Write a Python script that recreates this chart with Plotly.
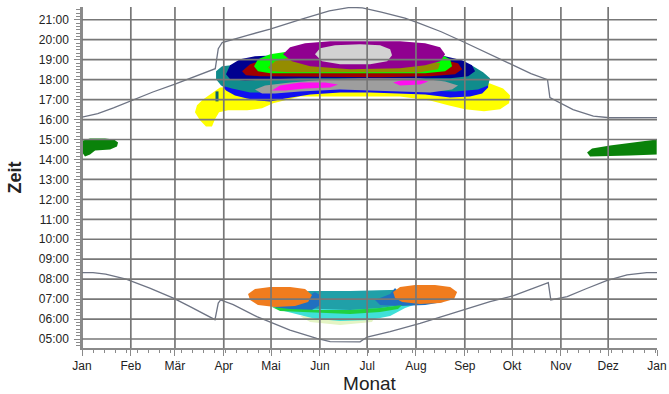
import pandas as pd
import plotly.graph_objects as go

# ---------------- data ----------------
YEAR_START = "2021-01-01"
month_days = [0, 31, 59, 90, 120, 151, 181, 212, 243, 273, 304, 334, 365]
month_labels = ["Jan", "Feb", "Mär", "Apr", "Mai", "Jun", "Jul", "Aug", "Sep", "Okt", "Nov", "Dez", "Jan"]
hours = list(range(5, 22))
hour_labels = [f"{h:02d}:00" for h in hours]

# sunset (upper grey curve): day of year, hour
sunset_day = [0, 10, 20, 31, 45, 59, 70, 84.6, 86.5, 89, 105, 119.4, 140, 157, 170, 178, 190, 205, 213,
              228, 243, 258, 272, 285, 295.5, 297, 311.7, 324.6, 335, 350, 365]
sunset_hr = [16.12, 16.3, 16.58, 16.93, 17.38, 17.78, 18.12, 18.55, 19.55, 19.86, 20.22, 20.53, 21.05, 21.45, 21.62,
             21.6, 21.38, 21.08, 20.86, 20.4, 19.86, 19.3, 18.75, 18.3, 18.0, 17.1, 16.5, 16.17, 16.09, 16.08, 16.1]
# sunrise (lower grey curve)
sunrise_day = [0, 7, 15, 28, 43, 58, 68.6, 84.4, 86.5, 88, 96, 111, 132, 149, 157.5, 176.5, 181, 195.6, 214.6,
               237, 259, 274, 296, 297.6, 308, 320, 333, 346, 358.5, 365]
sunrise_hr = [8.33, 8.33, 8.25, 8.0, 7.55, 7.05, 6.62, 5.97, 6.8, 6.96, 6.72, 6.12, 5.45, 5.03, 4.87, 4.86, 5.1, 5.37,
              5.79, 6.33, 6.87, 7.17, 7.83, 6.96, 7.13, 7.52, 7.93, 8.22, 8.33, 8.33]

# shadow regions (outline: day of year, hour) - drawn in this order
regions = [
    ("yellow", "#FFFF00",
     [71.7, 73.0, 76.8, 82.5, 87.6, 113.0, 170.2, 221.0, 246.3, 259.0, 267.3, 271.7, 271.1, 265.4, 255.2, 243.2,
      232.4, 221.0, 201.9, 138.4, 121.3, 114.3, 104.8, 92.7, 87.0, 84.4, 82.5, 78.7, 74.9],
     [16.36, 16.71, 17.01, 17.31, 17.61, 17.71, 17.71, 17.81, 18.02, 17.81, 17.56, 17.21, 16.81, 16.51, 16.41, 16.51,
      16.71, 16.96, 17.16, 17.16, 16.81, 16.56, 16.46, 16.46, 16.36, 16.01, 15.65, 15.65, 15.96]),
    ("blue", "#1010F0",
     [87.0, 88.3, 91.4, 97.1, 104.8, 111.7, 119.4, 128.9, 144.8, 163.8, 182.9, 201.9, 217.8, 233.7, 246.3, 254.0,
      257.8, 257.8, 246.3, 138.4, 94.0],
     [18.12, 17.76, 17.46, 17.21, 17.06, 16.96, 16.91, 17.06, 17.26, 17.36, 17.36, 17.31, 17.26, 17.11, 17.16, 17.31,
      17.61, 18.02, 18.42, 18.52, 18.42]),
    ("teal", "#108C8C",
     [85.1, 88.9, 100.3, 138.4, 201.9, 240.0, 248.3, 254.6, 259.0, 257.8, 251.4, 236.8, 214.6, 189.2, 163.8, 138.4,
      119.4, 106.7, 95.2, 88.3, 85.1],
     [18.42, 18.67, 18.77, 18.82, 18.82, 18.87, 18.67, 18.37, 18.07, 17.71, 17.51, 17.41, 17.46, 17.56, 17.61, 17.51,
      17.36, 17.36, 17.56, 17.71, 18.02]),
    ("grey", "#9E9E9E",
     [109.8, 116.2, 132.1, 157.5, 189.2, 214.6, 230.5, 238.7, 234.9, 221.0, 201.9, 182.9, 163.8, 138.4, 122.5, 114.3],
     [17.51, 17.71, 17.86, 18.02, 18.12, 18.07, 17.91, 17.71, 17.51, 17.36, 17.41, 17.46, 17.51, 17.41, 17.31, 17.31]),
    ("magenta1", "#FF10F0",
     [120.6, 125.7, 138.4, 154.3, 162.5, 157.5, 141.6, 128.9],
     [17.46, 17.71, 17.86, 17.86, 17.76, 17.61, 17.56, 17.46]),
    ("magenta2", "#FF10F0",
     [197.5, 205.1, 214.6, 219.7, 214.6, 201.9],
     [17.86, 18.02, 18.02, 17.91, 17.76, 17.71]),
    ("navy", "#000090",
     [91.4, 94.0, 100.3, 109.8, 138.4, 201.9, 230.5, 241.3, 247.6, 249.5, 245.1, 233.7, 138.4, 103.5, 94.0],
     [18.27, 18.72, 19.02, 19.17, 19.27, 19.27, 19.17, 18.97, 18.72, 18.42, 18.17, 18.07, 18.07, 17.96, 18.02]),
    ("darkred", "#A00000",
     [101.6, 106.7, 116.2, 138.4, 201.9, 227.3, 238.7, 241.3, 236.8, 221.0, 189.2, 138.4, 113.0, 104.1],
     [18.42, 18.77, 19.02, 19.12, 19.12, 19.02, 18.82, 18.52, 18.27, 18.17, 18.12, 18.17, 18.17, 18.22]),
    ("green", "#00FF00",
     [109.2, 111.7, 119.4, 132.1, 170.2, 214.6, 227.3, 233.7, 234.9, 230.5, 217.8, 189.2, 138.4, 119.4, 111.7],
     [18.67, 19.02, 19.27, 19.42, 19.52, 19.47, 19.27, 19.02, 18.67, 18.42, 18.32, 18.32, 18.32, 18.32, 18.42]),
    ("olive", "#948C00",
     [118.1, 122.5, 132.1, 170.2, 214.6, 227.3, 226.0, 214.6, 170.2, 132.1, 120.6],
     [18.62, 18.92, 19.12, 19.02, 19.02, 18.82, 18.52, 18.37, 18.37, 18.37, 18.42]),
    ("purple", "#900090",
     [127.6, 132.1, 141.6, 157.5, 201.9, 217.8, 227.3, 230.5, 227.3, 217.8, 201.9, 170.2, 144.8, 133.3],
     [19.27, 19.62, 19.82, 19.92, 19.92, 19.82, 19.62, 19.27, 18.92, 18.72, 18.57, 18.52, 18.67, 18.92]),
    ("lightgrey", "#D2D2D2",
     [147.9, 151.1, 160.6, 176.5, 189.2, 195.6, 196.8, 193.7, 182.9, 163.8, 152.4],
     [19.27, 19.57, 19.72, 19.77, 19.72, 19.52, 19.22, 18.92, 18.77, 18.77, 18.92]),
    # morning group
    ("pale", "#E4F4C4",
     [138.4, 163.8, 186.0, 184.1, 163.8, 144.8],
     [6.16, 6.06, 6.11, 5.85, 5.70, 5.85]),
    ("cyan", "#40E0D8",
     [114.3, 122.5, 138.4, 163.8, 189.2, 208.3, 221.0, 217.8, 205.1, 195.6, 182.9, 163.8, 147.9, 138.4, 125.7, 118.1],
     [6.96, 7.21, 7.31, 7.36, 7.41, 7.46, 7.26, 6.91, 6.56, 6.16, 5.95, 5.90, 6.01, 6.21, 6.46, 6.71]),
    ("teal2", "#20A0A8",
     [116.2, 125.7, 144.8, 170.2, 195.6, 214.6, 224.1, 219.7, 208.3, 189.2, 170.2, 151.1, 135.2, 122.5],
     [7.11, 7.31, 7.41, 7.41, 7.46, 7.51, 7.36, 7.01, 6.76, 6.56, 6.46, 6.51, 6.56, 6.71]),
    ("blue2", "#2070C0",
     [119.4, 132.1, 143.5, 147.9, 151.1, 151.1, 146.0, 135.2, 124.4],
     [6.76, 6.81, 7.16, 7.36, 7.21, 6.71, 6.46, 6.41, 6.51]),
    ("blue3", "#2070C0",
     [186.0, 195.6, 198.7, 203.2, 221.0, 229.2, 217.8, 201.9, 189.2],
     [6.96, 7.26, 7.56, 7.16, 6.96, 6.86, 6.71, 6.66, 6.71]),
    ("green2", "#20D040",
     [120.6, 132.1, 151.1, 170.2, 189.2, 203.2, 200.6, 189.2, 170.2, 151.1, 135.2, 125.7],
     [6.61, 6.51, 6.46, 6.46, 6.56, 6.71, 6.51, 6.36, 6.26, 6.31, 6.36, 6.41]),
    ("orange1", "#F07C1E",
     [105.4, 109.8, 119.4, 132.1, 141.6, 146.0, 143.5, 135.2, 122.5, 111.7, 106.7],
     [7.26, 7.51, 7.61, 7.61, 7.51, 7.21, 6.86, 6.66, 6.61, 6.71, 6.96]),
    ("orange2", "#F07C1E",
     [197.5, 201.9, 211.4, 224.1, 233.7, 238.1, 236.2, 227.3, 214.6, 203.2, 198.7],
     [7.36, 7.61, 7.71, 7.71, 7.61, 7.36, 7.01, 6.81, 6.76, 6.86, 7.06]),
    # afternoon green patches
    ("dgreen1", "#0A820A",
     [0.6, 5.1, 14.6, 20.3, 22.9, 22.2, 17.8, 8.3, 5.1, 1.9, 0.6],
     [14.95, 15.05, 15.05, 15.0, 14.85, 14.65, 14.50, 14.45, 14.25, 14.15, 14.30]),
    ("dgreen2", "#0A820A",
     [320.6, 323.8, 335.2, 349.8, 357.5, 364.8, 364.8, 364.8, 347.9, 333.3, 322.5],
     [14.35, 14.55, 14.70, 14.85, 14.95, 15.0, 14.50, 14.25, 14.20, 14.15, 14.15]),
]
# small dark mark at the left of the evening group
mark_day = [85.7, 85.7]
mark_hr = [17.41, 16.91]

# ---------------- figure ----------------
base = pd.Timestamp(YEAR_START)


def to_date(days):
    return [base + pd.Timedelta(days=d) for d in days]


month_dates = to_date(month_days)
GRID = "#777777"
AXIS = "#8A8A8A"
CURVE = "#6E7484"
FONT = "Liberation Sans, Arial, sans-serif"

fig = go.Figure()
for name, color, dx, hy in regions:
    fig.add_trace(go.Scatter(x=to_date(dx), y=hy, mode="lines", fill="toself", fillcolor=color,
                             line=dict(width=0, color=color), hoverinfo="skip", showlegend=False, name=name))
fig.add_trace(go.Scatter(x=to_date(mark_day), y=mark_hr, mode="lines", line=dict(color="#0A6070", width=3),
                         showlegend=False, hoverinfo="skip"))
fig.add_trace(go.Scatter(x=to_date(sunset_day), y=sunset_hr, mode="lines", line=dict(color=CURVE, width=1.3),
                         showlegend=False))
fig.add_trace(go.Scatter(x=to_date(sunrise_day), y=sunrise_hr, mode="lines", line=dict(color=CURVE, width=1.3),
                         showlegend=False))

# grid drawn above the coloured regions
for h in hours:
    fig.add_shape(type="line", xref="paper", yref="y", x0=0, x1=1, y0=h, y1=h, layer="above",
                  line=dict(color=GRID, width=1.7))
for d in month_dates[:-1]:
    fig.add_shape(type="line", xref="x", yref="paper", x0=d, x1=d, y0=0, y1=1, layer="above",
                  line=dict(color=GRID, width=1.7))

fig.update_layout(
    width=669, height=394,
    margin=dict(l=82, r=12, t=7, b=46),
    paper_bgcolor="white", plot_bgcolor="white",
    font=dict(family=FONT, color="#222222"),
    showlegend=False,
)
fig.update_xaxes(
    type="date", range=[month_dates[0], month_dates[-1]], automargin=False,
    tickmode="array", tickvals=month_dates, ticktext=month_labels,
    tickfont=dict(size=12, family=FONT, color="#222222"),
    ticks="outside", ticklen=6, tickcolor=AXIS, tickwidth=1,
    minor=dict(tickmode="linear", tick0=month_dates[0], dtick=7 * 86400000, ticks="outside", ticklen=3,
               tickcolor=AXIS, showgrid=False),
    showline=True, linecolor=AXIS, linewidth=1.5, showgrid=False, zeroline=False,
    title=dict(text="Monat", font=dict(size=19, family=FONT, color="#222222"), standoff=0),
)
fig.update_yaxes(
    range=[4.55, 21.64], automargin=False,
    tickmode="array", tickvals=hours, ticktext=hour_labels,
    tickfont=dict(size=12, family=FONT, color="#222222"),
    ticks="outside", ticklen=6, tickcolor=AXIS, tickwidth=1,
    minor=dict(tickmode="linear", tick0=0, dtick=1 / 6, ticks="outside", ticklen=4, tickcolor=AXIS,
               showgrid=False),
    ticklabelstandoff=3,
    showline=True, linecolor=AXIS, linewidth=1.5, showgrid=False, zeroline=False,
    title=dict(text="<b>Zeit</b>", font=dict(size=18, family=FONT, color="#222222"), standoff=13),
)

fig.write_html("out.html", config={"displayModeBar": False},
               post_script="document.body.style.margin='0';document.body.style.overflow='hidden';")
